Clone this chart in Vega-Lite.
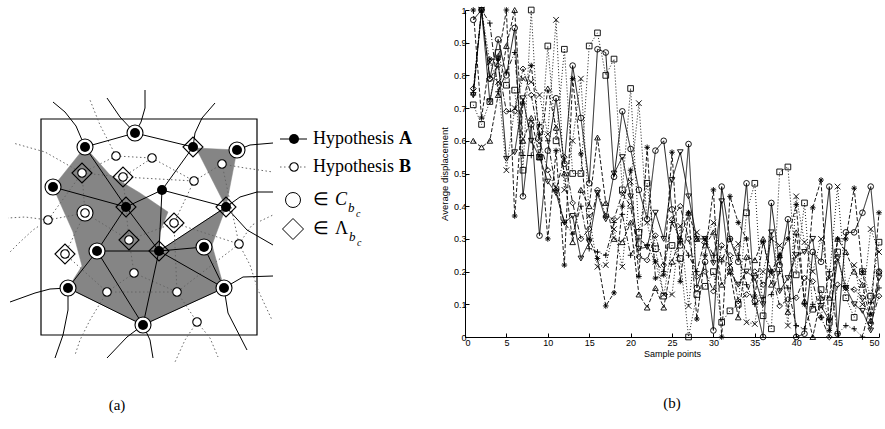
{
"$schema":"https://vega.github.io/schema/vega-lite/v6.json",
"spacing":4,
"config":{"view":{"stroke":null},"axis":{"domainColor":"black","tickColor":"black","labelColor":"black","titleColor":"black","grid":false,"labelFont":"Liberation Sans","titleFont":"Liberation Sans","titleFontWeight":"normal","domainWidth":1,"tickWidth":1}},
"datasets":{
"nodes":[
{"id":"B1","x":85,"y":147,"h":"A","m":"ring"},{"id":"B2","x":135,"y":133,"h":"A","m":"ring"},{"id":"B3","x":53,"y":187,"h":"A","m":"ring"},{"id":"B4","x":126,"y":207,"h":"A","m":"diamond"},{"id":"B5","x":193,"y":147,"h":"A","m":"diamond"},{"id":"B6","x":237,"y":150,"h":"A","m":"ring"},{"id":"B7","x":162,"y":190,"h":"A","m":"plain"},{"id":"B8","x":226,"y":207,"h":"A","m":"diamond"},{"id":"B9","x":97,"y":251,"h":"A","m":"ring"},{"id":"B10","x":68,"y":288,"h":"A","m":"ring"},{"id":"B11","x":143,"y":325,"h":"A","m":"ring"},{"id":"B12","x":159,"y":251,"h":"A","m":"diamond"},{"id":"B13","x":204,"y":247,"h":"A","m":"ring"},{"id":"B14","x":224,"y":288,"h":"A","m":"ring"},
{"id":"W1","x":82,"y":173,"h":"B","m":"diamond"},{"id":"W2","x":116,"y":156,"h":"B","m":"plain"},{"id":"W3","x":123,"y":177,"h":"B","m":"diamond"},{"id":"W4","x":85,"y":213,"h":"B","m":"ring"},{"id":"W5","x":48,"y":220,"h":"B","m":"plain"},{"id":"W6","x":129,"y":240,"h":"B","m":"diamond"},{"id":"W7","x":152,"y":158,"h":"B","m":"plain"},{"id":"W8","x":194,"y":181,"h":"B","m":"plain"},{"id":"W9","x":222,"y":164,"h":"B","m":"plain"},{"id":"W10","x":174,"y":223,"h":"B","m":"diamond"},{"id":"W11","x":65,"y":254,"h":"B","m":"diamond"},{"id":"W12","x":134,"y":273,"h":"B","m":"plain"},{"id":"W13","x":107,"y":292,"h":"B","m":"plain"},{"id":"W14","x":239,"y":244,"h":"B","m":"plain"},{"id":"W15","x":177,"y":292,"h":"B","m":"plain"},{"id":"W16","x":197,"y":322,"h":"B","m":"plain"},
{"id":"L1","x":294,"y":139,"h":"A","m":"legend"},{"id":"L2","x":294,"y":167,"h":"B","m":"legend"}
],
"polys":[
{"p":1,"i":0,"x":85,"y":147},{"p":1,"i":1,"x":110,"y":175},{"p":1,"i":2,"x":140,"y":193},{"p":1,"i":3,"x":168,"y":212},{"p":1,"i":4,"x":160,"y":232},{"p":1,"i":5,"x":159,"y":251},{"p":1,"i":6,"x":226,"y":207},{"p":1,"i":7,"x":212,"y":245},{"p":1,"i":8,"x":224,"y":288},{"p":1,"i":9,"x":143,"y":325},{"p":1,"i":10,"x":68,"y":288},{"p":1,"i":11,"x":82,"y":266},{"p":1,"i":12,"x":73,"y":232},{"p":1,"i":13,"x":53,"y":187},
{"p":2,"i":0,"x":196,"y":148},{"p":2,"i":1,"x":237,"y":150},{"p":2,"i":2,"x":226,"y":207}
],
"ea":[
{"e":"a1","i":0,"x":85,"y":147},{"e":"a1","i":1,"x":135,"y":133},
{"e":"a2","i":0,"x":135,"y":133},{"e":"a2","i":1,"x":193,"y":147},
{"e":"a3","i":0,"x":193,"y":147},{"e":"a3","i":1,"x":162,"y":190},
{"e":"a4","i":0,"x":53,"y":187},{"e":"a4","i":1,"x":126,"y":207},
{"e":"a5","i":0,"x":126,"y":207},{"e":"a5","i":1,"x":162,"y":190},
{"e":"a6","i":0,"x":162,"y":190},{"e":"a6","i":1,"x":226,"y":207},
{"e":"a7","i":0,"x":162,"y":190},{"e":"a7","i":1,"x":159,"y":251},
{"e":"a8","i":0,"x":126,"y":207},{"e":"a8","i":1,"x":97,"y":251},
{"e":"a9","i":0,"x":126,"y":207},{"e":"a9","i":1,"x":159,"y":251},
{"e":"a10","i":0,"x":97,"y":251},{"e":"a10","i":1,"x":159,"y":251},
{"e":"a11","i":0,"x":97,"y":251},{"e":"a11","i":1,"x":68,"y":288},
{"e":"a12","i":0,"x":97,"y":251},{"e":"a12","i":1,"x":143,"y":325},
{"e":"a13","i":0,"x":68,"y":288},{"e":"a13","i":1,"x":143,"y":325},
{"e":"a14","i":0,"x":143,"y":325},{"e":"a14","i":1,"x":159,"y":251},
{"e":"a15","i":0,"x":143,"y":325},{"e":"a15","i":1,"x":224,"y":288},
{"e":"a16","i":0,"x":159,"y":251},{"e":"a16","i":1,"x":204,"y":247},
{"e":"a17","i":0,"x":159,"y":251},{"e":"a17","i":1,"x":224,"y":288},
{"e":"a18","i":0,"x":159,"y":251},{"e":"a18","i":1,"x":226,"y":207},
{"e":"a19","i":0,"x":204,"y":247},{"e":"a19","i":1,"x":224,"y":288},
{"e":"a20","i":0,"x":85,"y":147},{"e":"a20","i":1,"x":126,"y":207},
{"e":"c1","i":0,"x":85,"y":147},{"e":"c1","i":1,"x":76,"y":126},{"e":"c1","i":2,"x":65,"y":112},{"e":"c1","i":3,"x":53,"y":102},
{"e":"c2","i":0,"x":135,"y":133},{"e":"c2","i":1,"x":120,"y":117},{"e":"c2","i":2,"x":107,"y":98},
{"e":"c3","i":0,"x":135,"y":133},{"e":"c3","i":1,"x":141,"y":122},{"e":"c3","i":2,"x":145,"y":108},{"e":"c3","i":3,"x":145,"y":90},
{"e":"c4","i":0,"x":193,"y":147},{"e":"c4","i":1,"x":195,"y":133},{"e":"c4","i":2,"x":202,"y":118},{"e":"c4","i":3,"x":215,"y":103},
{"e":"c5","i":0,"x":237,"y":150},{"e":"c5","i":1,"x":250,"y":145},{"e":"c5","i":2,"x":273,"y":143},
{"e":"c6","i":0,"x":226,"y":207},{"e":"c6","i":1,"x":240,"y":197},{"e":"c6","i":2,"x":257,"y":192},{"e":"c6","i":3,"x":273,"y":192},
{"e":"c7","i":0,"x":226,"y":207},{"e":"c7","i":1,"x":247,"y":230},{"e":"c7","i":2,"x":273,"y":245},
{"e":"c8","i":0,"x":68,"y":288},{"e":"c8","i":1,"x":50,"y":289},{"e":"c8","i":2,"x":35,"y":293},{"e":"c8","i":3,"x":10,"y":302},
{"e":"c9","i":0,"x":68,"y":288},{"e":"c9","i":1,"x":68,"y":310},{"e":"c9","i":2,"x":63,"y":335},{"e":"c9","i":3,"x":55,"y":358},
{"e":"c10","i":0,"x":143,"y":325},{"e":"c10","i":1,"x":127,"y":337},{"e":"c10","i":2,"x":107,"y":358},
{"e":"c11","i":0,"x":143,"y":325},{"e":"c11","i":1,"x":150,"y":340},{"e":"c11","i":2,"x":153,"y":358},
{"e":"c12","i":0,"x":224,"y":288},{"e":"c12","i":1,"x":243,"y":277},{"e":"c12","i":2,"x":273,"y":276},
{"e":"c13","i":0,"x":224,"y":288},{"e":"c13","i":1,"x":228,"y":313},{"e":"c13","i":2,"x":247,"y":350},
{"e":"l1","i":0,"x":280,"y":139},{"e":"l1","i":1,"x":307,"y":139}
],
"eb":[
{"e":"d1","i":0,"x":116,"y":156},{"e":"d1","i":1,"x":152,"y":158},
{"e":"d2","i":0,"x":116,"y":156},{"e":"d2","i":1,"x":82,"y":173},
{"e":"d3","i":0,"x":82,"y":173},{"e":"d3","i":1,"x":123,"y":177},
{"e":"d4","i":0,"x":82,"y":173},{"e":"d4","i":1,"x":85,"y":213},
{"e":"d5","i":0,"x":82,"y":173},{"e":"d5","i":1,"x":48,"y":220},
{"e":"d6","i":0,"x":123,"y":177},{"e":"d6","i":1,"x":152,"y":158},
{"e":"d7","i":0,"x":123,"y":177},{"e":"d7","i":1,"x":194,"y":181},
{"e":"d8","i":0,"x":152,"y":158},{"e":"d8","i":1,"x":194,"y":181},
{"e":"d9","i":0,"x":194,"y":181},{"e":"d9","i":1,"x":222,"y":164},
{"e":"d10","i":0,"x":194,"y":181},{"e":"d10","i":1,"x":174,"y":223},
{"e":"d11","i":0,"x":85,"y":213},{"e":"d11","i":1,"x":129,"y":240},
{"e":"d12","i":0,"x":85,"y":213},{"e":"d12","i":1,"x":65,"y":254},
{"e":"d13","i":0,"x":85,"y":213},{"e":"d13","i":1,"x":48,"y":220},
{"e":"d14","i":0,"x":129,"y":240},{"e":"d14","i":1,"x":174,"y":223},
{"e":"d15","i":0,"x":129,"y":240},{"e":"d15","i":1,"x":134,"y":273},
{"e":"d16","i":0,"x":134,"y":273},{"e":"d16","i":1,"x":107,"y":292},
{"e":"d17","i":0,"x":134,"y":273},{"e":"d17","i":1,"x":177,"y":292},
{"e":"d18","i":0,"x":174,"y":223},{"e":"d18","i":1,"x":177,"y":292},
{"e":"d19","i":0,"x":174,"y":223},{"e":"d19","i":1,"x":239,"y":244},
{"e":"d20","i":0,"x":239,"y":244},{"e":"d20","i":1,"x":177,"y":292},
{"e":"d21","i":0,"x":177,"y":292},{"e":"d21","i":1,"x":197,"y":322},
{"e":"d22","i":0,"x":107,"y":292},{"e":"d22","i":1,"x":177,"y":292},
{"e":"d23","i":0,"x":65,"y":254},{"e":"d23","i":1,"x":107,"y":292},
{"e":"d24","i":0,"x":222,"y":164},{"e":"d24","i":1,"x":239,"y":244},
{"e":"d25","i":0,"x":123,"y":177},{"e":"d25","i":1,"x":129,"y":240},
{"e":"o1","i":0,"x":116,"y":156},{"e":"o1","i":1,"x":100,"y":125},{"e":"o1","i":2,"x":90,"y":100},
{"e":"o2","i":0,"x":82,"y":173},{"e":"o2","i":1,"x":45,"y":152},{"e":"o2","i":2,"x":13,"y":143},
{"e":"o3","i":0,"x":48,"y":220},{"e":"o3","i":1,"x":25,"y":217},{"e":"o3","i":2,"x":8,"y":218},
{"e":"o4","i":0,"x":107,"y":292},{"e":"o4","i":1,"x":90,"y":320},{"e":"o4","i":2,"x":80,"y":340},{"e":"o4","i":3,"x":75,"y":355},
{"e":"o5","i":0,"x":197,"y":322},{"e":"o5","i":1,"x":185,"y":340},{"e":"o5","i":2,"x":175,"y":362},
{"e":"o6","i":0,"x":197,"y":322},{"e":"o6","i":1,"x":210,"y":338},{"e":"o6","i":2,"x":218,"y":357},
{"e":"o7","i":0,"x":239,"y":244},{"e":"o7","i":1,"x":250,"y":265},{"e":"o7","i":2,"x":258,"y":290},{"e":"o7","i":3,"x":272,"y":320},
{"e":"o8","i":0,"x":239,"y":244},{"e":"o8","i":1,"x":252,"y":225},{"e":"o8","i":2,"x":273,"y":215},
{"e":"o9","i":0,"x":222,"y":164},{"e":"o9","i":1,"x":245,"y":168},{"e":"o9","i":2,"x":273,"y":172},
{"e":"o10","i":0,"x":48,"y":220},{"e":"o10","i":1,"x":33,"y":230},{"e":"o10","i":2,"x":20,"y":242},{"e":"o10","i":3,"x":10,"y":252},
{"e":"l2","i":0,"x":280,"y":167},{"e":"l2","i":1,"x":307,"y":167}
],
"series":[
{"s":"O","x":1,"v":0.97},{"s":"O","x":2,"v":1.0},{"s":"O","x":3,"v":0.79},{"s":"O","x":4,"v":0.91},{"s":"O","x":5,"v":0.8},{"s":"O","x":6,"v":0.945},{"s":"O","x":7,"v":0.43},{"s":"O","x":8,"v":0.65},{"s":"O","x":9,"v":0.31},{"s":"O","x":10,"v":0.57},{"s":"O","x":11,"v":0.73},{"s":"O","x":12,"v":0.53},{"s":"O","x":13,"v":0.83},{"s":"O","x":14,"v":0.67},{"s":"O","x":15,"v":0.47},{"s":"O","x":16,"v":0.88},{"s":"O","x":17,"v":0.87},{"s":"O","x":18,"v":0.49},{"s":"O","x":19,"v":0.69},{"s":"O","x":20,"v":0.575},{"s":"O","x":21,"v":0.45},{"s":"O","x":22,"v":0.36},{"s":"O","x":23,"v":0.57},{"s":"O","x":24,"v":0.6},{"s":"O","x":25,"v":0.39},{"s":"O","x":26,"v":0.28},{"s":"O","x":27,"v":0.59},{"s":"O","x":28,"v":0.15},{"s":"O","x":29,"v":0.23},{"s":"O","x":30,"v":0.02},{"s":"O","x":31,"v":0.46},{"s":"O","x":32,"v":0.3},{"s":"O","x":33,"v":0.23},{"s":"O","x":34,"v":0.47},{"s":"O","x":35,"v":0.11},{"s":"O","x":36,"v":0},{"s":"O","x":37,"v":0.41},{"s":"O","x":38,"v":0.22},{"s":"O","x":39,"v":0.36},{"s":"O","x":40,"v":0},{"s":"O","x":41,"v":0.01},{"s":"O","x":42,"v":0.26},{"s":"O","x":43,"v":0.23},{"s":"O","x":44,"v":0.46},{"s":"O","x":45,"v":0.01},{"s":"O","x":46,"v":0.32},{"s":"O","x":47,"v":0.32},{"s":"O","x":48,"v":0.38},{"s":"O","x":49,"v":0.46},{"s":"O","x":50,"v":0.2},
{"s":"S","x":1,"v":0.71},{"s":"S","x":2,"v":0.65},{"s":"S","x":3,"v":0.72},{"s":"S","x":4,"v":0.87},{"s":"S","x":5,"v":0.77},{"s":"S","x":6,"v":0.755},{"s":"S","x":7,"v":0.51},{"s":"S","x":8,"v":1.0},{"s":"S","x":9,"v":0.55},{"s":"S","x":10,"v":0.89},{"s":"S","x":11,"v":0.6},{"s":"S","x":12,"v":0.88},{"s":"S","x":13,"v":0.5},{"s":"S","x":14,"v":0.5},{"s":"S","x":15,"v":0.89},{"s":"S","x":16,"v":0.93},{"s":"S","x":17,"v":0.8},{"s":"S","x":18,"v":0.85},{"s":"S","x":19,"v":0.45},{"s":"S","x":20,"v":0.76},{"s":"S","x":21,"v":0.32},{"s":"S","x":22,"v":0.47},{"s":"S","x":23,"v":0.27},{"s":"S","x":24,"v":0.125},{"s":"S","x":25,"v":0.28},{"s":"S","x":26,"v":0.24},{"s":"S","x":27,"v":0},{"s":"S","x":28,"v":0.13},{"s":"S","x":29,"v":0.155},{"s":"S","x":30,"v":0.2},{"s":"S","x":31,"v":0.045},{"s":"S","x":32,"v":0.08},{"s":"S","x":33,"v":0.1},{"s":"S","x":34,"v":0.38},{"s":"S","x":35,"v":0.47},{"s":"S","x":36,"v":0.065},{"s":"S","x":37,"v":0.025},{"s":"S","x":38,"v":0.505},{"s":"S","x":39,"v":0.52},{"s":"S","x":40,"v":0.19},{"s":"S","x":41,"v":0.41},{"s":"S","x":42,"v":0.085},{"s":"S","x":43,"v":0.145},{"s":"S","x":44,"v":0.045},{"s":"S","x":45,"v":0.26},{"s":"S","x":46,"v":0.12},{"s":"S","x":47,"v":0.06},{"s":"S","x":48,"v":0.2},{"s":"S","x":49,"v":0.125},{"s":"S","x":50,"v":0.29},
{"s":"X","x":1,"v":0.75},{"s":"X","x":2,"v":1.0},{"s":"X","x":3,"v":0.84},{"s":"X","x":4,"v":0.78},{"s":"X","x":5,"v":0.51},{"s":"X","x":6,"v":0.7},{"s":"X","x":7,"v":0.79},{"s":"X","x":8,"v":0.78},{"s":"X","x":9,"v":0.74},{"s":"X","x":10,"v":0.62},{"s":"X","x":11,"v":0.97},{"s":"X","x":12,"v":0.45},{"s":"X","x":13,"v":0.6},{"s":"X","x":14,"v":0.79},{"s":"X","x":15,"v":0.37},{"s":"X","x":16,"v":0.215},{"s":"X","x":17,"v":0.22},{"s":"X","x":18,"v":0.33},{"s":"X","x":19,"v":0.215},{"s":"X","x":20,"v":0.475},{"s":"X","x":21,"v":0.715},{"s":"X","x":22,"v":0.35},{"s":"X","x":23,"v":0.23},{"s":"X","x":24,"v":0.13},{"s":"X","x":25,"v":0.13},{"s":"X","x":26,"v":0.34},{"s":"X","x":27,"v":0.095},{"s":"X","x":28,"v":0.32},{"s":"X","x":29,"v":0.3},{"s":"X","x":30,"v":0.35},{"s":"X","x":31,"v":0.24},{"s":"X","x":32,"v":0.22},{"s":"X","x":33,"v":0.285},{"s":"X","x":34,"v":0.045},{"s":"X","x":35,"v":0.04},{"s":"X","x":36,"v":0.2},{"s":"X","x":37,"v":0.3},{"s":"X","x":38,"v":0.28},{"s":"X","x":39,"v":0.035},{"s":"X","x":40,"v":0.43},{"s":"X","x":41,"v":0.29},{"s":"X","x":42,"v":0.2},{"s":"X","x":43,"v":0.3},{"s":"X","x":44,"v":0.18},{"s":"X","x":45,"v":0.46},{"s":"X","x":46,"v":0.15},{"s":"X","x":47,"v":0.22},{"s":"X","x":48,"v":0.1},{"s":"X","x":49,"v":0.33},{"s":"X","x":50,"v":0.26},
{"s":"TU","x":1,"v":0.6},{"s":"TU","x":2,"v":0.58},{"s":"TU","x":3,"v":0.6},{"s":"TU","x":4,"v":0.74},{"s":"TU","x":5,"v":0.89},{"s":"TU","x":6,"v":1.0},{"s":"TU","x":7,"v":0.6},{"s":"TU","x":8,"v":0.67},{"s":"TU","x":9,"v":0.55},{"s":"TU","x":10,"v":0.76},{"s":"TU","x":11,"v":0.64},{"s":"TU","x":12,"v":0.5},{"s":"TU","x":13,"v":0.29},{"s":"TU","x":14,"v":0.45},{"s":"TU","x":15,"v":0.4},{"s":"TU","x":16,"v":0.61},{"s":"TU","x":17,"v":0.41},{"s":"TU","x":18,"v":0.3},{"s":"TU","x":19,"v":0.29},{"s":"TU","x":20,"v":0.35},{"s":"TU","x":21,"v":0.13},{"s":"TU","x":22,"v":0.09},{"s":"TU","x":23,"v":0.15},{"s":"TU","x":24,"v":0.09},{"s":"TU","x":25,"v":0.23},{"s":"TU","x":26,"v":0.3},{"s":"TU","x":27,"v":0.38},{"s":"TU","x":28,"v":0.3},{"s":"TU","x":29,"v":0.28},{"s":"TU","x":30,"v":0.32},{"s":"TU","x":31,"v":0.16},{"s":"TU","x":32,"v":0.2},{"s":"TU","x":33,"v":0.06},{"s":"TU","x":34,"v":0.245},{"s":"TU","x":35,"v":0.235},{"s":"TU","x":36,"v":0.3},{"s":"TU","x":37,"v":0.16},{"s":"TU","x":38,"v":0.25},{"s":"TU","x":39,"v":0.077},{"s":"TU","x":40,"v":0.32},{"s":"TU","x":41,"v":0.11},{"s":"TU","x":42,"v":0},{"s":"TU","x":43,"v":0.12},{"s":"TU","x":44,"v":0.12},{"s":"TU","x":45,"v":0.3},{"s":"TU","x":46,"v":0.26},{"s":"TU","x":47,"v":0.2},{"s":"TU","x":48,"v":0.16},{"s":"TU","x":49,"v":0.05},{"s":"TU","x":50,"v":0.2},
{"s":"TD","x":1,"v":0.74},{"s":"TD","x":2,"v":1.0},{"s":"TD","x":3,"v":0.72},{"s":"TD","x":4,"v":0.85},{"s":"TD","x":5,"v":0.545},{"s":"TD","x":6,"v":0.565},{"s":"TD","x":7,"v":0.73},{"s":"TD","x":8,"v":0.6},{"s":"TD","x":9,"v":0.55},{"s":"TD","x":10,"v":0.475},{"s":"TD","x":11,"v":0.44},{"s":"TD","x":12,"v":0.35},{"s":"TD","x":13,"v":0.37},{"s":"TD","x":14,"v":0.24},{"s":"TD","x":15,"v":0.29},{"s":"TD","x":16,"v":0.44},{"s":"TD","x":17,"v":0.36},{"s":"TD","x":18,"v":0.5},{"s":"TD","x":19,"v":0.55},{"s":"TD","x":20,"v":0.43},{"s":"TD","x":21,"v":0.27},{"s":"TD","x":22,"v":0.275},{"s":"TD","x":23,"v":0.38},{"s":"TD","x":24,"v":0.3},{"s":"TD","x":25,"v":0.48},{"s":"TD","x":26,"v":0.565},{"s":"TD","x":27,"v":0.43},{"s":"TD","x":28,"v":0.3},{"s":"TD","x":29,"v":0.3},{"s":"TD","x":30,"v":0.226},{"s":"TD","x":31,"v":0.415},{"s":"TD","x":32,"v":0.2},{"s":"TD","x":33,"v":0.16},{"s":"TD","x":34,"v":0.2},{"s":"TD","x":35,"v":0.18},{"s":"TD","x":36,"v":0.1},{"s":"TD","x":37,"v":0.32},{"s":"TD","x":38,"v":0.14},{"s":"TD","x":39,"v":0.18},{"s":"TD","x":40,"v":0.25},{"s":"TD","x":41,"v":0.26},{"s":"TD","x":42,"v":0.3},{"s":"TD","x":43,"v":0.095},{"s":"TD","x":44,"v":0.05},{"s":"TD","x":45,"v":0.24},{"s":"TD","x":46,"v":0.15},{"s":"TD","x":47,"v":0.1},{"s":"TD","x":48,"v":0.08},{"s":"TD","x":49,"v":0.02},{"s":"TD","x":50,"v":0.18},
{"s":"D","x":1,"v":0.76},{"s":"D","x":2,"v":1.0},{"s":"D","x":3,"v":0.79},{"s":"D","x":4,"v":0.83},{"s":"D","x":5,"v":0.69},{"s":"D","x":6,"v":0.69},{"s":"D","x":7,"v":0.82},{"s":"D","x":8,"v":0.74},{"s":"D","x":9,"v":0.6},{"s":"D","x":10,"v":0.51},{"s":"D","x":11,"v":0.45},{"s":"D","x":12,"v":0.55},{"s":"D","x":13,"v":0.41},{"s":"D","x":14,"v":0.3},{"s":"D","x":15,"v":0.33},{"s":"D","x":16,"v":0.45},{"s":"D","x":17,"v":0.37},{"s":"D","x":18,"v":0.36},{"s":"D","x":19,"v":0.44},{"s":"D","x":20,"v":0.4},{"s":"D","x":21,"v":0.245},{"s":"D","x":22,"v":0.235},{"s":"D","x":23,"v":0.31},{"s":"D","x":24,"v":0.22},{"s":"D","x":25,"v":0.36},{"s":"D","x":26,"v":0.4},{"s":"D","x":27,"v":0.3},{"s":"D","x":28,"v":0.185},{"s":"D","x":29,"v":0.2},{"s":"D","x":30,"v":0.14},{"s":"D","x":31,"v":0.28},{"s":"D","x":32,"v":0.25},{"s":"D","x":33,"v":0.11},{"s":"D","x":34,"v":0.13},{"s":"D","x":35,"v":0.2},{"s":"D","x":36,"v":0.16},{"s":"D","x":37,"v":0.2},{"s":"D","x":38,"v":0.095},{"s":"D","x":39,"v":0.115},{"s":"D","x":40,"v":0.12},{"s":"D","x":41,"v":0.18},{"s":"D","x":42,"v":0.17},{"s":"D","x":43,"v":0.06},{"s":"D","x":44,"v":0},{"s":"D","x":45,"v":0.16},{"s":"D","x":46,"v":0.15},{"s":"D","x":47,"v":0.145},{"s":"D","x":48,"v":0.12},{"s":"D","x":49,"v":0.04},{"s":"D","x":50,"v":0.125},
{"s":"ST","x":1,"v":1.0},{"s":"ST","x":2,"v":0.67},{"s":"ST","x":3,"v":0.85},{"s":"ST","x":4,"v":0.85},{"s":"ST","x":5,"v":1.0},{"s":"ST","x":6,"v":0.37},{"s":"ST","x":7,"v":0.715},{"s":"ST","x":8,"v":0.83},{"s":"ST","x":9,"v":0.62},{"s":"ST","x":10,"v":0.3},{"s":"ST","x":11,"v":0.57},{"s":"ST","x":12,"v":0.22},{"s":"ST","x":13,"v":0.79},{"s":"ST","x":14,"v":0.56},{"s":"ST","x":15,"v":0.3},{"s":"ST","x":16,"v":0.24},{"s":"ST","x":17,"v":0.095},{"s":"ST","x":18,"v":0.135},{"s":"ST","x":19,"v":0.4},{"s":"ST","x":20,"v":0.51},{"s":"ST","x":21,"v":0.185},{"s":"ST","x":22,"v":0.58},{"s":"ST","x":23,"v":0.18},{"s":"ST","x":24,"v":0.19},{"s":"ST","x":25,"v":0.565},{"s":"ST","x":26,"v":0.17},{"s":"ST","x":27,"v":0.38},{"s":"ST","x":28,"v":0.055},{"s":"ST","x":29,"v":0.25},{"s":"ST","x":30,"v":0.45},{"s":"ST","x":31,"v":0},{"s":"ST","x":32,"v":0.43},{"s":"ST","x":33,"v":0.35},{"s":"ST","x":34,"v":0.3},{"s":"ST","x":35,"v":0.125},{"s":"ST","x":36,"v":0.29},{"s":"ST","x":37,"v":0.2},{"s":"ST","x":38,"v":0.25},{"s":"ST","x":39,"v":0.3},{"s":"ST","x":40,"v":0.405},{"s":"ST","x":41,"v":0.1},{"s":"ST","x":42,"v":0.395},{"s":"ST","x":43,"v":0.48},{"s":"ST","x":44,"v":0.02},{"s":"ST","x":45,"v":0.3},{"s":"ST","x":46,"v":0.3},{"s":"ST","x":47,"v":0.455},{"s":"ST","x":48,"v":0.2},{"s":"ST","x":49,"v":0.07},{"s":"ST","x":50,"v":0.38},
{"s":"P","x":1,"v":0.74},{"s":"P","x":2,"v":1.0},{"s":"P","x":3,"v":0.96},{"s":"P","x":4,"v":0.75},{"s":"P","x":5,"v":0.81},{"s":"P","x":6,"v":0.87},{"s":"P","x":7,"v":0.555},{"s":"P","x":8,"v":0.555},{"s":"P","x":9,"v":0.65},{"s":"P","x":10,"v":0.6},{"s":"P","x":11,"v":0.45},{"s":"P","x":12,"v":0.35},{"s":"P","x":13,"v":0.315},{"s":"P","x":14,"v":0.4},{"s":"P","x":15,"v":0.27},{"s":"P","x":16,"v":0.26},{"s":"P","x":17,"v":0.25},{"s":"P","x":18,"v":0.35},{"s":"P","x":19,"v":0.375},{"s":"P","x":20,"v":0.25},{"s":"P","x":21,"v":0.3},{"s":"P","x":22,"v":0.28},{"s":"P","x":23,"v":0.23},{"s":"P","x":24,"v":0.2},{"s":"P","x":25,"v":0.35},{"s":"P","x":26,"v":0.3},{"s":"P","x":27,"v":0.25},{"s":"P","x":28,"v":0.2},{"s":"P","x":29,"v":0.3},{"s":"P","x":30,"v":0.25},{"s":"P","x":31,"v":0.23},{"s":"P","x":32,"v":0.3},{"s":"P","x":33,"v":0.25},{"s":"P","x":34,"v":0.16},{"s":"P","x":35,"v":0.1},{"s":"P","x":36,"v":0.12},{"s":"P","x":37,"v":0.13},{"s":"P","x":38,"v":0.2},{"s":"P","x":39,"v":0.15},{"s":"P","x":40,"v":0.035},{"s":"P","x":41,"v":0.025},{"s":"P","x":42,"v":0.1},{"s":"P","x":43,"v":0.06},{"s":"P","x":44,"v":0.2},{"s":"P","x":45,"v":0.01},{"s":"P","x":46,"v":0.035},{"s":"P","x":47,"v":0.025},{"s":"P","x":48,"v":0},{"s":"P","x":49,"v":0.105},{"s":"P","x":50,"v":0.15}
]
},
"hconcat":[
{
"width":430,"height":410,
"encoding":{
 "x":{"field":"x","type":"quantitative","scale":{"domain":[5,435],"nice":false,"zero":false},"axis":null},
 "y":{"field":"y","type":"quantitative","scale":{"domain":[10,420],"nice":false,"zero":false,"reverse":true},"axis":null}
},
"layer":[
 {"data":{"name":"polys"},"mark":{"type":"line","fill":"#858585","stroke":"#858585","strokeWidth":0.5,"interpolate":"linear-closed"},"encoding":{"detail":{"field":"p"},"order":{"field":"i"}}},
 {"data":{"values":[{"x":41,"y":119,"x2":257,"y2":335}]},"mark":{"type":"rect","filled":false,"stroke":"black","strokeWidth":1.2},"encoding":{"x2":{"field":"x2"},"y2":{"field":"y2"}}},
 {"data":{"name":"eb"},"mark":{"type":"line","stroke":"#666666","strokeWidth":1,"strokeDash":[1.5,2.5]},"encoding":{"detail":{"field":"e"},"order":{"field":"i"}}},
 {"data":{"name":"ea"},"mark":{"type":"line","stroke":"black","strokeWidth":1},"encoding":{"detail":{"field":"e"},"order":{"field":"i"}}},
 {"data":{"name":"nodes"},"transform":[{"filter":"datum.m == 'ring'"}],"mark":{"type":"point","shape":"circle","size":256,"filled":true,"fill":"white","stroke":"black","strokeWidth":1.1,"opacity":1}},
 {"data":{"name":"nodes"},"transform":[{"filter":"datum.m == 'diamond'"}],"mark":{"type":"point","shape":"diamond","size":400,"filled":false,"stroke":"black","strokeWidth":1.1,"opacity":1}},
 {"data":{"name":"nodes"},"transform":[{"filter":"datum.h == 'A'"}],"mark":{"type":"point","shape":"circle","size":100,"filled":true,"fill":"black","stroke":null,"opacity":1}},
 {"data":{"name":"nodes"},"transform":[{"filter":"datum.h == 'B'"}],"mark":{"type":"point","shape":"circle","size":72,"filled":true,"fill":"white","stroke":"black","strokeWidth":1.1,"opacity":1}},
 {"data":{"values":[{"x":293,"y":200}]},"mark":{"type":"point","shape":"circle","size":225,"filled":false,"stroke":"black","strokeWidth":1,"opacity":1}},
 {"data":{"values":[{"x":293,"y":229}]},"mark":{"type":"point","shape":"diamond","size":441,"filled":false,"stroke":"black","strokeWidth":1,"opacity":1}},
 {"data":{"values":[{"x":313,"y":139,"t":"Hypothesis"},{"x":313,"y":167,"t":"Hypothesis"},{"x":313,"y":200,"t":"∈"},{"x":313,"y":229,"t":"∈"},{"x":335,"y":229,"t":"Λ"}]},"mark":{"type":"text","font":"Liberation Serif","fontSize":18,"align":"left","baseline":"middle","color":"black"},"encoding":{"text":{"field":"t"}}},
 {"data":{"values":[{"x":399,"y":139,"t":"A"},{"x":399,"y":167,"t":"B"}]},"mark":{"type":"text","font":"Liberation Serif","fontSize":18,"fontWeight":"bold","align":"left","baseline":"middle","color":"black"},"encoding":{"text":{"field":"t"}}},
 {"data":{"values":[{"x":335,"y":200,"t":"C"}]},"mark":{"type":"text","font":"Liberation Serif","fontSize":18,"fontStyle":"italic","align":"left","baseline":"middle","color":"black"},"encoding":{"text":{"field":"t"}}},
 {"data":{"values":[{"x":348,"y":208,"t":"b"},{"x":349,"y":237,"t":"b"}]},"mark":{"type":"text","font":"Liberation Serif","fontSize":13,"fontStyle":"italic","align":"left","baseline":"middle","color":"black"},"encoding":{"text":{"field":"t"}}},
 {"data":{"values":[{"x":356,"y":214,"t":"c"},{"x":357,"y":243,"t":"c"}]},"mark":{"type":"text","font":"Liberation Serif","fontSize":10,"fontStyle":"italic","align":"left","baseline":"middle","color":"black"},"encoding":{"text":{"field":"t"}}},
 {"data":{"values":[{"x":117,"y":405,"t":"(a)"}]},"mark":{"type":"text","font":"Liberation Serif","fontSize":15,"align":"center","baseline":"middle","color":"black"},"encoding":{"text":{"field":"t"}}}
]
},
{
"width":414,"height":327,
"data":{"name":"series"},
"title":{"text":"(b)","orient":"bottom","font":"Liberation Serif","fontSize":15,"fontWeight":"normal","color":"black","offset":38},
"encoding":{
 "x":{"field":"x","type":"quantitative","scale":{"domain":[0,50],"nice":false,"zero":false},"axis":{"values":[0,5,10,15,20,25,30,35,40,45,50],"title":"Sample points","titleFontSize":9,"titlePadding":2,"labelFontSize":9,"tickSize":-4,"labelPadding":5}},
 "y":{"field":"v","type":"quantitative","scale":{"domain":[0,1],"nice":false},"axis":{"values":[0,0.1,0.2,0.3,0.4,0.5,0.6,0.7,0.8,0.9,1],"format":"~g","title":"Average displacement","titleFontSize":9.5,"titlePadding":4,"labelFontSize":9,"tickSize":-4,"labelPadding":3}}
},
"layer":[
 {"mark":{"type":"line","color":"black","strokeWidth":0.9},"encoding":{"detail":{"field":"s"},"strokeDash":{"field":"s","type":"nominal","scale":{"domain":["O","S","X","TU","TD","D","ST","P"],"range":[[1,0],[1,2],[1,2],[4,2],[1,0],[5,2,1,2],[4,2],[5,2,1,2]]},"legend":null}}},
 {"mark":{"type":"point","filled":false,"color":"black","strokeWidth":0.9,"size":32,"opacity":1},"encoding":{"shape":{"field":"s","type":"nominal","scale":{"domain":["O","S","X","TU","TD","D","ST","P"],"range":["circle","square","M-1,-1L1,1M-1,1L1,-1","triangle-up","triangle-down","diamond","M-1,0L1,0M0,-1L0,1M-0.7,-0.7L0.7,0.7M-0.7,0.7L0.7,-0.7","M-1,0L1,0M0,-1L0,1"]},"legend":null}}}
]
}
]
}
